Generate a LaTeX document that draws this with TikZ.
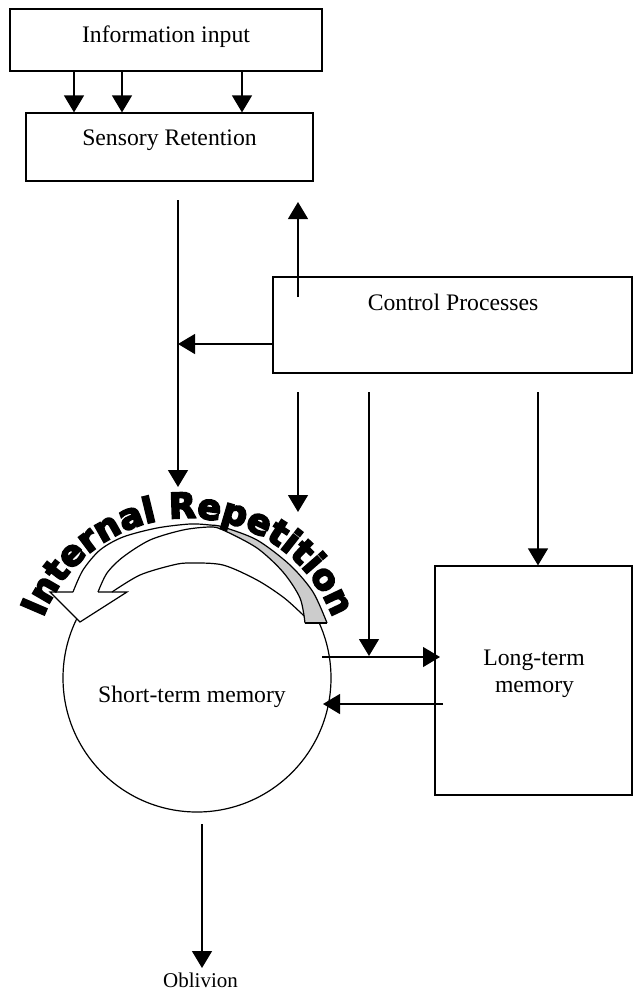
\documentclass[tikz,border=0pt]{standalone}
\usepackage{fontspec}
\setmainfont{Liberation Serif}
\newfontfamily\irfont{DejaVu Sans Bold}[FakeBold=5]
\usetikzlibrary{arrows.meta,decorations.text}
\definecolor{rgray}{gray}{0.8}
\begin{document}
\begin{tikzpicture}[x=1pt,y=-1pt,
  line width=1.2pt,
  box/.style={draw, rectangle, inner sep=0pt},
  lbl/.style={anchor=base, inner sep=0pt, font=\fontsize{23.7}{28}\selectfont},
  arr/.style={-{Triangle[width=20pt,length=17pt]}},
  ribbon/.style={line width=1.2pt, line join=miter}
]
\useasboundingbox (0,0) rectangle (639,994);

% boxes
\node[box, minimum width=312pt, minimum height=62pt] (info) at (166,40) {};
\node[lbl] (infot) at (166,42) {Information input};
\node[box, minimum width=287pt, minimum height=68pt] (sens) at (169.5,147) {};
\node[lbl] (senst) at (169.5,145) {Sensory Retention};
\node[box, minimum width=359pt, minimum height=96pt] (ctrl) at (452.5,325) {};
\node[lbl] (ctrlt) at (453,310) {Control Processes};
\node[box, minimum width=197pt, minimum height=229pt] (ltm) at (533.5,680.5) {};
\node[lbl] (ltmt1) at (534,665) {Long-term};
\node[lbl] (ltmt2) at (534.5,692) {memory};
\node[circle, draw, minimum size=268pt, inner sep=0pt] (stm) at (197,678) {};

% curved block arrow
\fill[white] plot[smooth] coordinates {(73,592) (83,570) (100,550) (123,537) (157,528) (190,524) (210,525) (223,527) (257,540) (290,565) (313,592) (327,623)}
  -- (305,623)
  -- plot[smooth] coordinates {(304,616) (300,612) (283,597) (257,580) (223,565) (190,563) (173,565) (140,575) (112,592)}
  -- (127,592) -- (80,622) -- (50,592) -- cycle;
\fill[rgray] plot[smooth] coordinates {(210,525) (223,527) (257,540) (290,565) (313,592) (327,623)}
  -- (305,623)
  -- plot[smooth] coordinates {(305,623) (300,598) (283,572) (257,548) (223,530) (210,527)} -- cycle;
\draw[ribbon] plot[smooth] coordinates {(73,592) (83,570) (100,550) (123,537) (157,528) (190,524) (210,525) (223,527) (257,540) (290,565) (313,592) (327,623)};
\draw[ribbon] plot[smooth] coordinates {(98,592) (107,573) (123,557) (150,540) (183,530) (210,527) (223,530) (257,548) (283,572) (300,598) (305,623)};
\draw[ribbon] plot[smooth] coordinates {(112,592) (140,575) (173,565) (190,563) (223,565) (257,580) (283,597) (300,612) (304,616)};
\draw[ribbon] (73,592) -- (50,592) -- (80,622) -- (127,592) -- (98,592);
\draw[ribbon] (305,623) -- (327,623);

% arched text
\path[decorate, decoration={text along path,
  text={|\irfont\fontsize{35}{35}\selectfont|Internal Repetition},
  text align=center}]
  (38.28,632.88) arc[start angle=-165, end angle=-15, radius=155];

\node[lbl] (stmt) at (192,702) {Short-term memory};
\node[lbl, font=\fontsize{21}{25}\selectfont] (obl) at (200.5,987) {Oblivion};

% connectors
\coordinate (x74) at (74,0);
\coordinate (x122) at (122,0);
\coordinate (x242) at (242,0);
\foreach \c in {x74,x122,x242} \draw[arr] (info.south -| \c) -- (sens.north -| \c);

\coordinate (sa) at (178,200);
\coordinate (sb) at (178,487);
\draw[arr] (sa) -- (sb);

\coordinate (ua) at (298,297);
\coordinate (ub) at (298,202);
\draw[arr] (ua) -- (ub);

\coordinate (ja) at (178,344);
\draw[arr] (ctrl.west |- ja) -- (ja);

\coordinate (da) at (298,392);
\coordinate (db) at (298,512);
\draw[arr] (da) -- (db);

\coordinate (ea) at (369,392);
\coordinate (eb) at (369,656);
\draw[arr] (ea) -- (eb);

\coordinate (fa) at (538,392);
\draw[arr] (fa) -- (ltm.north -| fa);

\coordinate (ha) at (322,657);
\coordinate (hb) at (440,657);
\draw[arr] (ha) -- (hb);

\coordinate (ka) at (443,704);
\coordinate (kb) at (323,704);
\draw[arr] (ka) -- (kb);

\coordinate (oa) at (202,824);
\coordinate (ob) at (202,968);
\draw[arr] (oa) -- (ob);
\end{tikzpicture}
\end{document}
